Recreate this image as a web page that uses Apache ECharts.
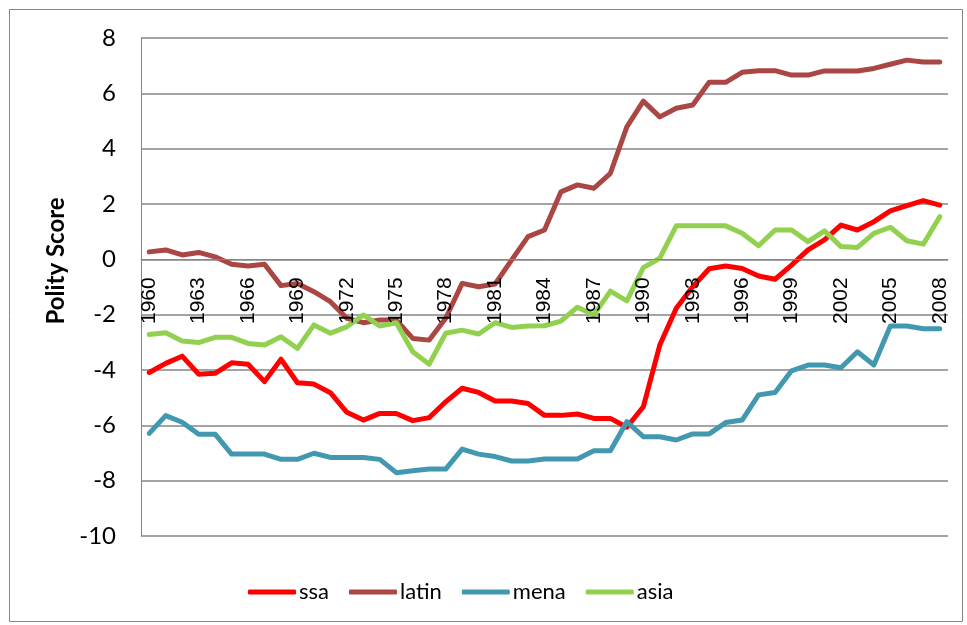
<!DOCTYPE html>
<html>
<head>
<meta charset="utf-8">
<script src="https://cdn.jsdelivr.net/npm/echarts@6/dist/echarts.min.js"></script>
<style>
  html, body { margin: 0; padding: 0; background: #fff; }
  #chart { width: 967px; height: 625px; }
</style>
</head>
<body>
<div id="chart"></div>
<script>
// 年份
var years = ['1960','1961','1962','1963','1964','1965','1966','1967','1968','1969',
  '1970','1971','1972','1973','1974','1975','1976','1977','1978','1979',
  '1980','1981','1982','1983','1984','1985','1986','1987','1988','1989',
  '1990','1991','1992','1993','1994','1995','1996','1997','1998','1999',
  '2000','2001','2002','2003','2004','2005','2006','2007','2008'];

var ssa = [-4.09,-3.76,-3.50,-4.15,-4.12,-3.74,-3.79,-4.42,-3.61,-4.46,
  -4.51,-4.82,-5.53,-5.81,-5.57,-5.57,-5.83,-5.72,-5.15,-4.66,
  -4.81,-5.12,-5.12,-5.21,-5.64,-5.64,-5.59,-5.75,-5.75,-6.07,
  -5.33,-3.10,-1.77,-0.99,-0.34,-0.24,-0.33,-0.60,-0.72,-0.21,
  0.34,0.70,1.24,1.06,1.36,1.75,1.94,2.12,1.96];

var latin = [0.27,0.34,0.16,0.25,0.09,-0.18,-0.24,-0.18,-0.95,-0.87,
  -1.17,-1.53,-2.13,-2.29,-2.19,-2.19,-2.86,-2.92,-2.13,-0.87,
  -0.99,-0.89,-0.03,0.82,1.06,2.44,2.69,2.57,3.11,4.79,
  5.72,5.15,5.46,5.58,6.40,6.40,6.76,6.82,6.82,6.66,
  6.66,6.81,6.81,6.81,6.90,7.05,7.20,7.13,7.13];

var mena = [-6.29,-5.65,-5.89,-6.32,-6.32,-7.04,-7.04,-7.04,-7.23,-7.23,
  -7.01,-7.16,-7.16,-7.16,-7.23,-7.71,-7.64,-7.58,-7.58,-6.86,
  -7.04,-7.13,-7.29,-7.29,-7.22,-7.22,-7.22,-6.92,-6.92,-5.87,
  -6.41,-6.41,-6.53,-6.31,-6.31,-5.90,-5.81,-4.90,-4.81,-4.03,
  -3.82,-3.82,-3.92,-3.34,-3.82,-2.41,-2.41,-2.51,-2.51];

var asia = [-2.72,-2.65,-2.95,-3.01,-2.82,-2.82,-3.04,-3.10,-2.80,-3.22,
  -2.37,-2.67,-2.44,-2.01,-2.41,-2.29,-3.34,-3.79,-2.67,-2.56,
  -2.70,-2.29,-2.46,-2.41,-2.40,-2.23,-1.73,-2.01,-1.15,-1.50,
  -0.30,0.04,1.21,1.21,1.21,1.21,0.94,0.49,1.06,1.06,
  0.64,1.03,0.46,0.43,0.94,1.16,0.67,0.55,1.54];

var seriesNames = ['ssa', 'latin', 'mena', 'asia'];
var seriesColors = ['#FF0000', '#AA4643', '#4198AF', '#92D050'];
var seriesData = [ssa, latin, mena, asia];

var gridColor = '#868686';
var yMin = -10;
var yMax = 8;
var gridTop = 38;
var gridBottom = 89;
var chartHeight = 625;

// x 轴放在 0 刻度处
function zeroOffset() {
  var plotH = chartHeight - gridTop - gridBottom;
  return -plotH * (0 - yMin) / (yMax - yMin);
}

function buildSeries() {
  var list = [];
  for (var i = 0; i < seriesNames.length; i++) {
    list.push({
      name: seriesNames[i],
      type: 'line',
      data: seriesData[i],
      showSymbol: false,
      symbol: 'none',
      smooth: false,
      z: 3,
      itemStyle: { color: seriesColors[i] },
      lineStyle: { color: seriesColors[i], width: 5, join: 'round', cap: 'round' }
    });
  }
  return list;
}

var myChart = echarts.init(document.getElementById('chart'), null, { renderer: 'canvas' });
var option = {
  backgroundColor: '#ffffff',
  animation: false,
  graphic: [{
    type: 'rect',
    left: 7,
    top: 7,
    shape: { width: 953, height: 612 },
    style: { fill: 'none', stroke: gridColor, lineWidth: 1 },
    silent: true
  }],
  grid: {
    left: 141,
    right: 19,
    top: gridTop,
    bottom: gridBottom
  },
  legend: {
    left: 243,
    top: 576,
    itemGap: 20,
    itemWidth: 48,
    itemHeight: 5,
    icon: 'roundRect',
    textStyle: {
      fontFamily: 'Lato',
      fontSize: 22,
      color: '#000',
      padding: [0, 0, 0, -2]
    },
    data: seriesNames
  },
  xAxis: {
    type: 'category',
    data: years,
    boundaryGap: true,
    offset: zeroOffset(),
    z: 4,
    axisLine: {
      onZero: false,
      lineStyle: { color: gridColor, width: 1 }
    },
    axisTick: { show: false },
    axisLabel: {
      interval: 2,
      rotate: 90,
      margin: 18,
      fontFamily: 'Liberation Sans',
      fontSize: 21,
      color: '#000'
    },
    splitLine: { show: false }
  },
  yAxis: {
    type: 'value',
    min: yMin,
    max: yMax,
    interval: 2,
    name: 'Polity Score',
    nameLocation: 'middle',
    nameGap: 73,
    nameRotate: 90,
    nameTextStyle: {
      fontFamily: 'Lato',
      fontWeight: 'bold',
      fontSize: 24,
      color: '#000',
      padding: [0, 0, 0, 52]
    },
    axisLine: {
      show: true,
      lineStyle: { color: gridColor, width: 1 }
    },
    axisTick: { show: false },
    axisLabel: {
      margin: 25,
      fontFamily: 'Lato',
      fontSize: 24,
      color: '#000'
    },
    splitLine: {
      show: true,
      lineStyle: { color: gridColor, width: 1.5 }
    }
  },
  series: buildSeries()
};
if (option && typeof option === 'object') {
  myChart.setOption(option, true);
}
</script>
</body>
</html>
